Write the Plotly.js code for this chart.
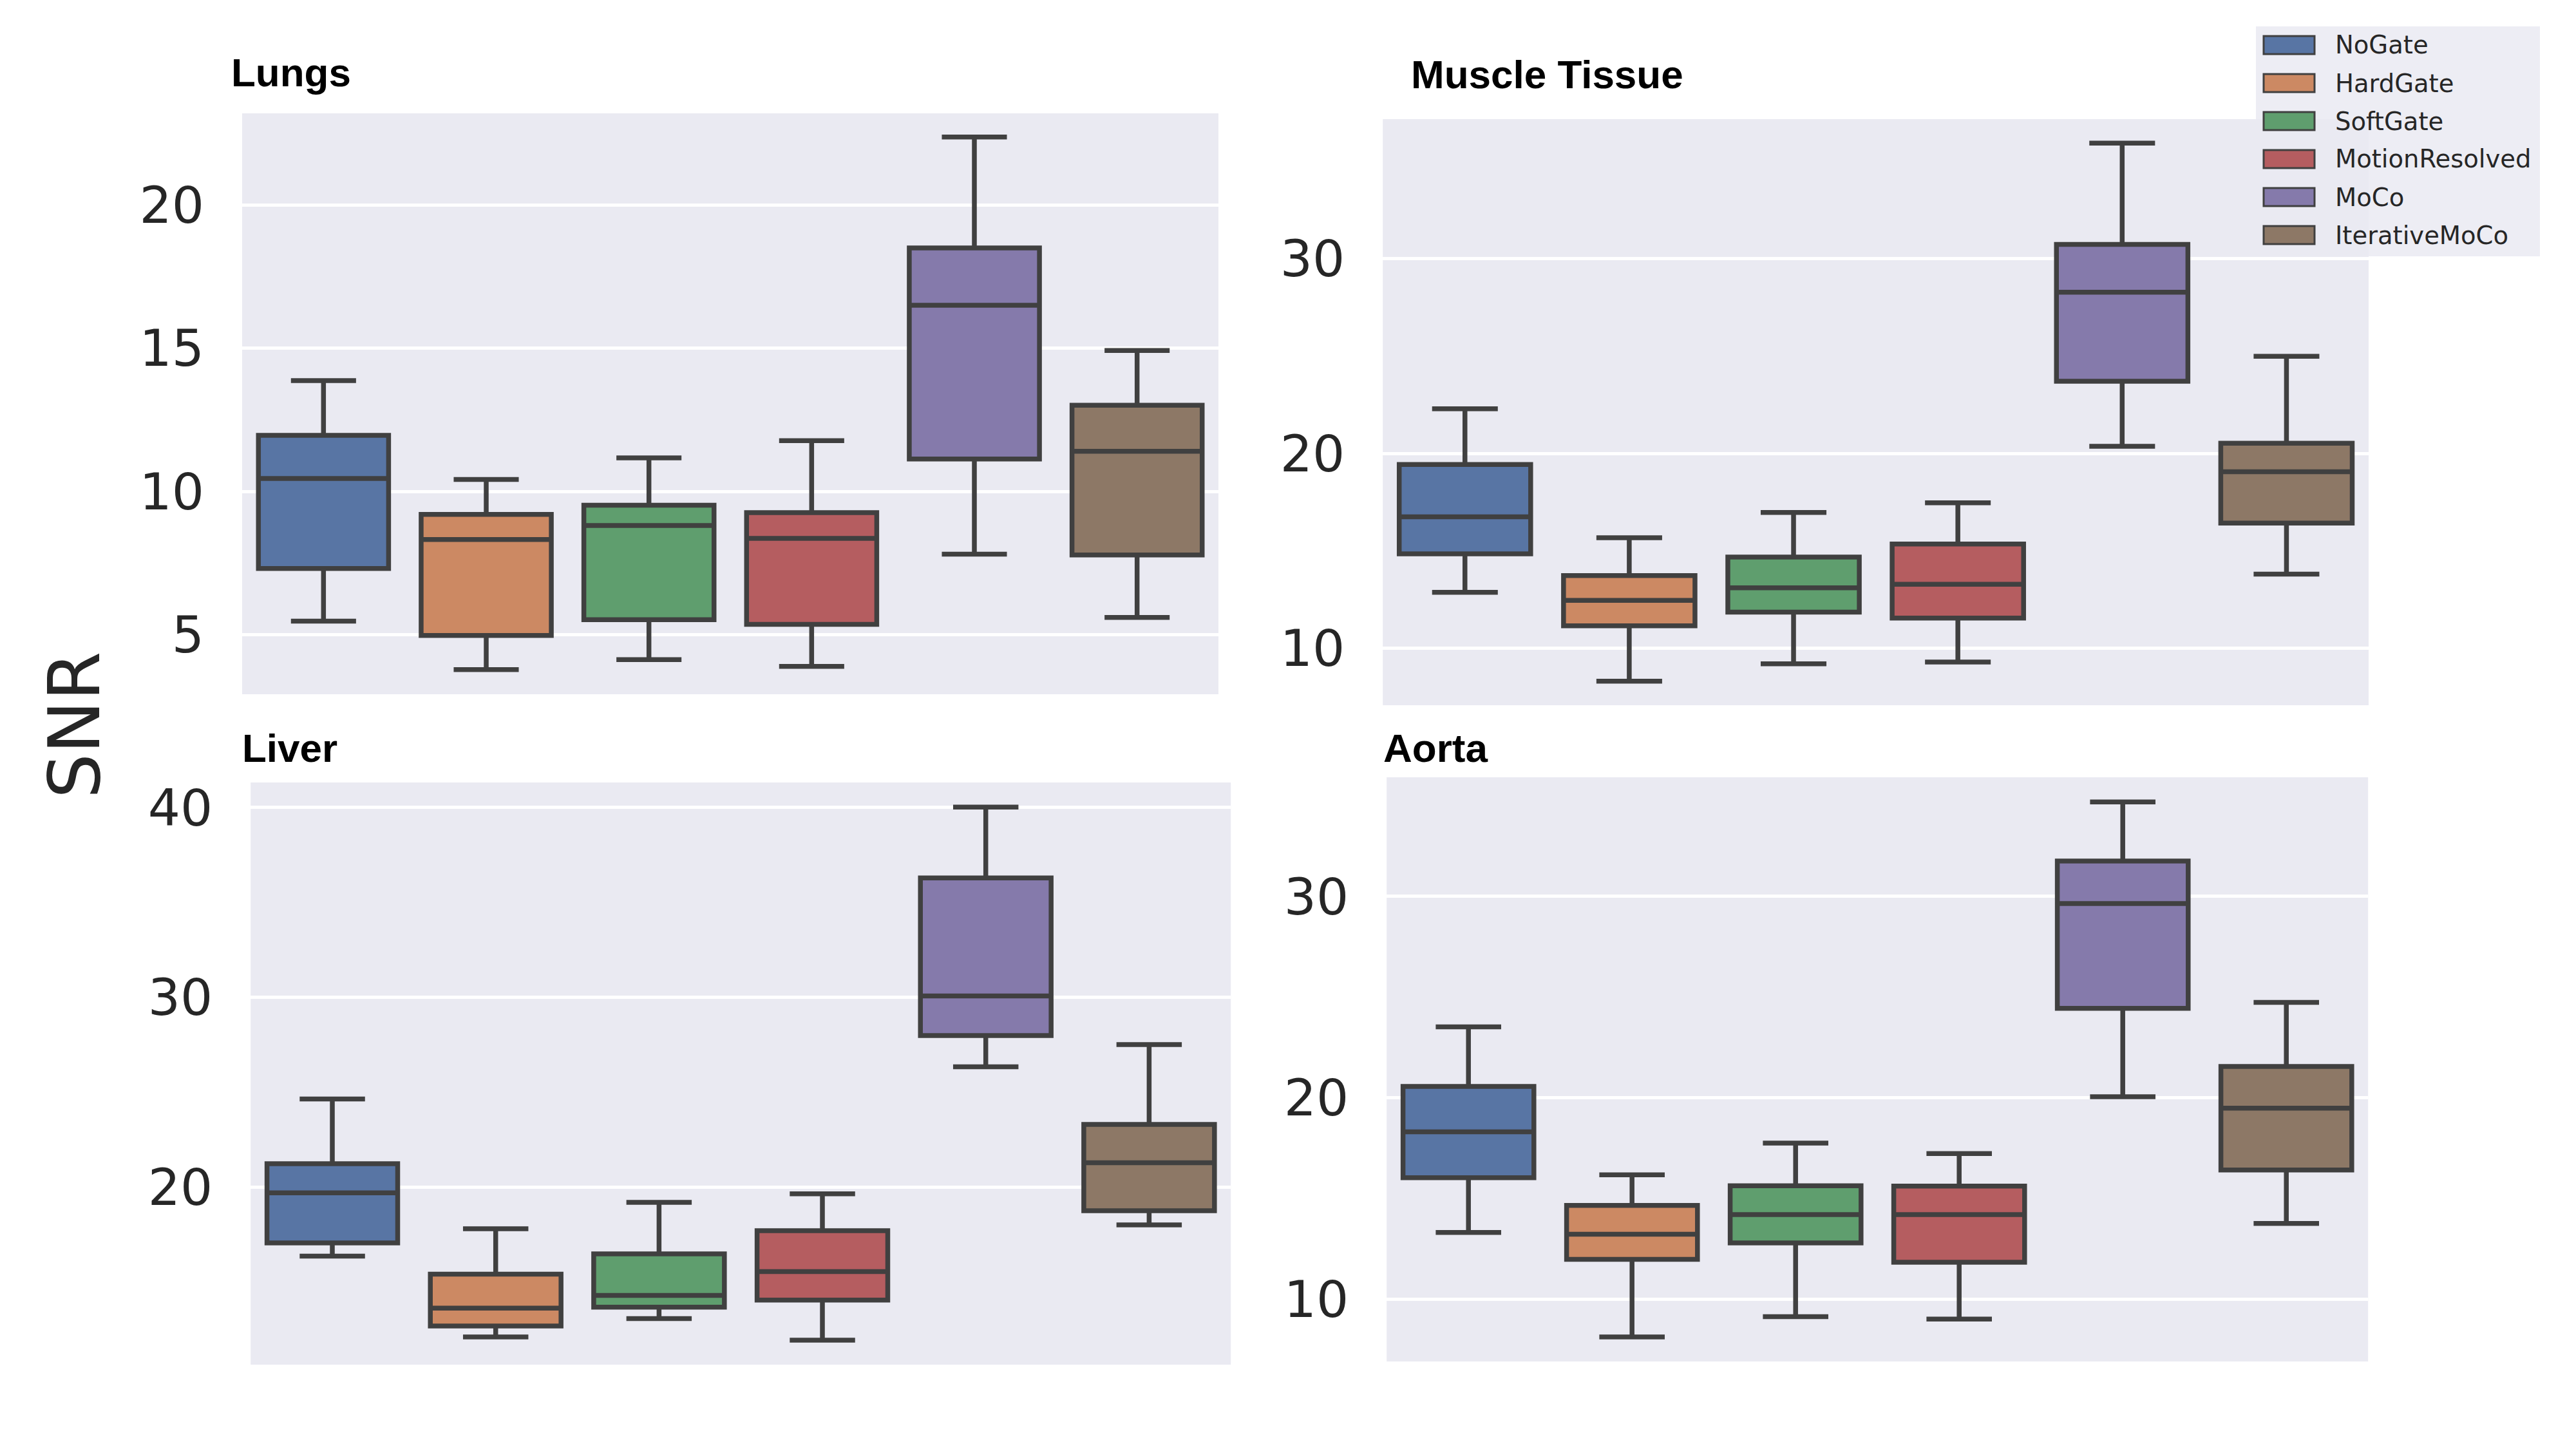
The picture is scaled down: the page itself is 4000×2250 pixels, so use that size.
<!DOCTYPE html>
<html>
<head>
<meta charset="utf-8">
<script src="https://cdn.plot.ly/plotly-3.0.1.min.js"></script>
<style>html,body{margin:0;padding:0;background:#fff;}#chart{width:4000px;height:2250px;}</style>
</head>
<body>
<div id="chart"></div>
<script>
// ---- categories / names ----
const methods = ["NoGate", "HardGate", "SoftGate", "MotionResolved", "MoCo", "IterativeMoCo"];
const boxColors = ["#5875A4", "#CC8963", "#5F9E6E", "#B55D60", "#857AAB", "#8D7866"];
const panelTitles = ["Lungs", "Muscle Tissue", "Liver", "Aorta"];

// ---- Lungs ----
const lungsLow  = [5.47, 3.78, 4.13, 3.89, 7.81, 5.60];
const lungsQ1   = [7.31, 4.97, 5.52, 5.36, 11.13, 7.78];
const lungsMed  = [10.45, 8.32, 8.81, 8.36, 16.50, 11.40];
const lungsQ3   = [11.96, 9.20, 9.52, 9.26, 18.50, 13.01];
const lungsHigh = [13.87, 10.42, 11.17, 11.77, 22.37, 14.92];

// ---- Muscle Tissue ----
const muscleLow  = [12.88, 8.31, 9.21, 9.30, 20.37, 13.81];
const muscleQ1   = [14.85, 11.16, 11.86, 11.55, 23.71, 16.43];
const muscleMed  = [16.75, 12.46, 13.11, 13.29, 28.28, 19.07];
const muscleQ3   = [19.44, 13.74, 14.69, 15.36, 30.74, 20.53];
const muscleHigh = [22.30, 15.68, 16.98, 17.47, 35.94, 24.99];

// ---- Liver ----
const liverLow  = [16.37, 12.11, 13.08, 11.94, 26.34, 18.01];
const liverQ1   = [17.06, 12.69, 13.68, 14.05, 27.99, 18.76];
const liverMed  = [19.70, 13.63, 14.30, 15.55, 30.07, 21.29];
const liverQ3   = [21.24, 15.42, 16.49, 17.71, 36.29, 23.31];
const liverHigh = [24.65, 17.81, 19.20, 19.65, 40.02, 27.51];

// ---- Aorta ----
const aortaLow  = [13.31, 8.12, 9.13, 9.01, 20.05, 13.76];
const aortaQ1   = [16.03, 11.97, 12.79, 11.83, 24.44, 16.41];
const aortaMed  = [18.31, 13.22, 14.20, 14.20, 29.65, 19.48];
const aortaQ3   = [20.56, 14.65, 15.63, 15.61, 31.76, 21.55];
const aortaHigh = [23.52, 16.17, 17.75, 17.23, 34.69, 24.74];

// ---- axis ticks ----
const lungsTicks  = [5, 10, 15, 20];
const muscleTicks = [10, 20, 30];
const liverTicks  = [20, 30, 40];
const aortaTicks  = [10, 20, 30];

const panels = [
  {low: lungsLow,  q1: lungsQ1,  med: lungsMed,  q3: lungsQ3,  high: lungsHigh,  xa: "x",  ya: "y"},
  {low: muscleLow, q1: muscleQ1, med: muscleMed, q3: muscleQ3, high: muscleHigh, xa: "x2", ya: "y2"},
  {low: liverLow,  q1: liverQ1,  med: liverMed,  q3: liverQ3,  high: liverHigh,  xa: "x3", ya: "y3"},
  {low: aortaLow,  q1: aortaQ1,  med: aortaMed,  q3: aortaQ3,  high: aortaHigh,  xa: "x4", ya: "y4"}
];

const lineColor = "#404040";
const traces = [];
panels.forEach(function (p) {
  methods.forEach(function (m, i) {
    traces.push({
      type: "box",
      name: m,
      x: [m],
      lowerfence: [p.low[i]],
      q1: [p.q1[i]],
      median: [p.med[i]],
      q3: [p.q3[i]],
      upperfence: [p.high[i]],
      xaxis: p.xa,
      yaxis: p.ya,
      width: 0.8,
      whiskerwidth: 0.5,
      fillcolor: boxColors[i],
      line: {color: lineColor, width: 7.5},
      boxpoints: false,
      showlegend: false,
      hoverinfo: "skip"
    });
  });
});

const tickFont = {family: "DejaVu Sans", size: 79, color: "#262626"};
function xAx(domain, anchor) {
  return {
    domain: domain, anchor: anchor, type: "category",
    categoryorder: "array", categoryarray: methods,
    range: [-0.5, 5.5], showticklabels: false, showgrid: false,
    zeroline: false, showline: false, ticks: "", fixedrange: true
  };
}
function yAx(domain, anchor, range, ticks) {
  return {
    domain: domain, anchor: anchor, range: range,
    tickmode: "array", tickvals: ticks, ticktext: ticks.map(String),
    showgrid: true, gridcolor: "#FFFFFF", gridwidth: 5,
    zeroline: false, showline: false, ticks: "",
    tickfont: tickFont, ticklabelstandoff: 58, fixedrange: true
  };
}

const shapes = [];
const annotations = [];

// panel titles
const titlePos = [[0.0893, 0.9500], [0.5473, 0.9487], [0.0935, 0.4840], [0.5365, 0.4840]];
panelTitles.forEach(function (t, k) {
  annotations.push({
    text: "<b>" + t + "</b>", xref: "paper", yref: "paper",
    x: titlePos[k][0], y: titlePos[k][1], xanchor: "left", yanchor: "middle",
    showarrow: false, font: {family: "Liberation Sans", size: 62, color: "#000000"}
  });
});

// y label
annotations.push({
  text: "SNR", xref: "paper", yref: "paper", x: 116 / 4000, y: 1 - 1126 / 2250,
  xanchor: "center", yanchor: "middle", textangle: -90, showarrow: false,
  font: {family: "DejaVu Sans", size: 110, color: "#262626"}
});

// legend (drawn manually)
shapes.push({
  type: "rect", xref: "paper", yref: "paper",
  x0: 3503 / 4000, x1: 3944 / 4000, y0: 1 - 398 / 2250, y1: 1 - 41 / 2250,
  fillcolor: "rgba(234,234,242,0.85)", line: {width: 0}, layer: "above"
});
methods.forEach(function (m, i) {
  const cy = 70 + 59 * i;
  shapes.push({
    type: "rect", xref: "paper", yref: "paper",
    x0: 3515 / 4000, x1: 3594 / 4000, y0: 1 - (cy + 14) / 2250, y1: 1 - (cy - 14) / 2250,
    fillcolor: boxColors[i], line: {color: lineColor, width: 3}, layer: "above"
  });
  annotations.push({
    text: m, xref: "paper", yref: "paper", x: 3624 / 4000, y: 1 - cy / 2250,
    xanchor: "left", yanchor: "middle", showarrow: false,
    font: {family: "DejaVu Sans", size: 38.5, color: "#262626"}
  });
});

const layout = {
  width: 4000, height: 2250,
  margin: {l: 0, r: 0, t: 0, b: 0},
  paper_bgcolor: "#FFFFFF", plot_bgcolor: "#EAEAF2",
  showlegend: false, boxmode: "overlay",
  xaxis:  xAx([0.0940, 0.4730], "y"),
  yaxis:  yAx([0.5209, 0.9218], "x",  [2.92, 23.2], lungsTicks),
  xaxis2: xAx([0.5368, 0.9195], "y2"),
  yaxis2: yAx([0.5133, 0.9178], "x2", [7.08, 37.17], muscleTicks),
  xaxis3: xAx([0.0973, 0.4778], "y3"),
  yaxis3: yAx([0.0582, 0.4600], "x3", [10.65, 41.32], liverTicks),
  xaxis4: xAx([0.5383, 0.9193], "y4"),
  yaxis4: yAx([0.0604, 0.4636], "x4", [6.90, 35.92], aortaTicks),
  shapes: shapes,
  annotations: annotations
};

Plotly.newPlot("chart", traces, layout, {staticPlot: true, displayModeBar: false});
</script>
</body>
</html>
